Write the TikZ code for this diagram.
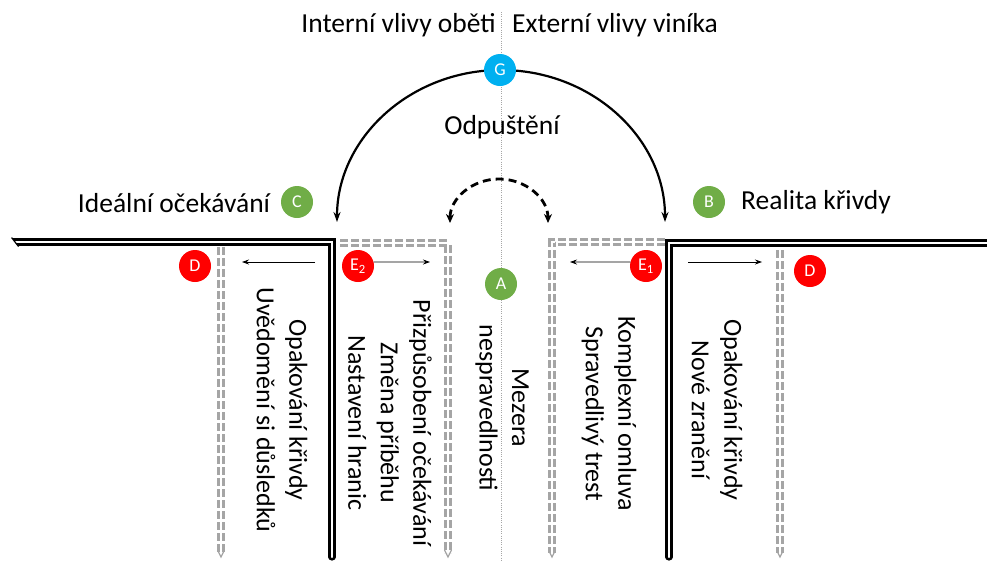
\documentclass[tikz,border=0pt]{standalone}
\usepackage{fontspec}
\setmainfont{Carlito}
\usetikzlibrary{arrows.meta,calc}
\definecolor{cgreen}{HTML}{70AD47}
\definecolor{cred}{HTML}{FF0000}
\definecolor{cblue}{HTML}{00B0F0}
\definecolor{cgray}{RGB}{165,165,165}
\tikzset{
  wall/.style={draw=black, line width=2.6pt, double=white, double distance=2pt, line cap=round},
  lane/.style={draw=cgray, line width=2.7pt, double=white, double distance=1.8pt, dash pattern=on 8pt off 3pt},
  lanetip/.style={draw=cgray, line width=1.2pt},
  badge/.style={circle, minimum size=32pt, inner sep=0pt, text=white, font=\fontsize{18}{18}\selectfont},
  txt/.style={font=\fontsize{27.5}{33}\selectfont, inner sep=0pt},
  vtxt/.style={inner sep=0pt, font=\fontsize{26}{32.5}\selectfont, rotate=-90, align=center},
  thinarrow/.style={-{Stealth[length=7pt,width=5pt]}, line width=0.8pt},
  bigarc/.style={{Stealth[length=10pt,width=7pt]}-{Stealth[length=10pt,width=7pt]}, line width=2.2pt},
  smallarc/.style={{Stealth[length=9pt,width=8pt]}-{Stealth[length=9pt,width=8pt]}, line width=2.8pt, dash pattern=on 8pt off 5pt},
  axis/.style={draw=gray!70, line width=0.6pt, dash pattern=on 1pt off 1.2pt},
}
\begin{document}
\begin{tikzpicture}[x=1pt,y=-1pt]
\useasboundingbox (0,0) rectangle (987,560);

% central axis
\coordinate (axtop) at (501,12);
\coordinate (axbot) at (501,560);
\draw[axis] (axtop) -- (axbot);

% black walls (double line)
\begin{scope}
  \clip (9,234) -- (420,234) -- (420,570) -- (30,570) -- (30,250) -- (21,250) -- cycle;
  \draw[wall] (5,242) -- (332,242) -- (332,557);
\end{scope}
\draw[line width=1.2pt] (11.6,237.6) -- (18.6,246.6);
\draw[wall] (669,557) -- (669,243) -- (995,243);

% grey lanes
\draw[lane] (340,243) -- (448,243) -- (448,553);
\draw[lane] (665,242) -- (552,242) -- (552,553);
\draw[lane] (221,247) -- (221,553);
\draw[lane] (780,250) -- (780,553);
\foreach \lx in {221,448,552,780}
  \draw[lanetip] (\lx-3.5,550) -- (\lx,557) -- (\lx+3.5,550);

% arcs
\coordinate (arcL) at (337,222);
\coordinate (arcS) at (450,223);
\draw[bigarc] (arcL) arc[start angle=180, end angle=0, x radius=164pt, y radius=152pt];
\draw[smallarc] (arcS) arc[start angle=180, end angle=0, x radius=49pt, y radius=44pt];

% badges
\node[badge, fill=cblue] (G) at (500,70) {G};
\node[badge, fill=cgreen] (C) at (297,202) {C};
\node[badge, fill=cgreen] (B) at (709,202) {B};
\node[badge, fill=cgreen] (A) at (501,284) {A};
\node[badge, fill=cred] (D1) at (195,266) {D};
\node[badge, fill=cred] (D2) at (810,271) {D};
\node[badge, fill=cred] (E2) at (358,266) {E\textsubscript{2}};
\node[badge, fill=cred] (E1) at (646,266) {E\textsubscript{1}};

% small direction arrows
\coordinate (aL1) at (315,262);
\coordinate (aL2) at (242,262);
\coordinate (aE2) at (430,262);
\coordinate (aE1) at (570,262);
\coordinate (aR1) at (688,262);
\coordinate (aR2) at (762,262);
\draw[thinarrow] (aL1) -- (aL2);
\draw[thinarrow] (E2.14) -- (aE2);
\draw[thinarrow] (E1.166) -- (aE1);
\draw[thinarrow] (aR1) -- (aR2);

% horizontal labels
\node[txt, anchor=east] (tInt) at (496,25) {Interní vlivy oběti};
\node[txt, anchor=west] (tExt) at (512,25) {Externí vlivy viníka};
\node[txt] (tOdp) at (502,127) {Odpuštění};
\node[txt] (tIdeal) at (174,203) {Ideální očekávání};
\node[txt] (tReal) at (816,202) {Realita křivdy};

% vertical labels
\node[vtxt] (vL) at (282,410) {Opakování křivdy\\Uvědomění si důsledků};
\node[vtxt] (vIL) at (390,423) {Přizpůsobení očekávání\\Změna příběhu\\Nastavení hranic};
\node[vtxt] (vM) at (502,408) {Mezera\\nespravedlnosti};
\node[vtxt] (vIR) at (609,414) {Komplexní omluva\\Spravedlivý trest};
\node[vtxt] (vR) at (717,410) {Opakování křivdy\\Nové zranění};
\end{tikzpicture}
\end{document}
